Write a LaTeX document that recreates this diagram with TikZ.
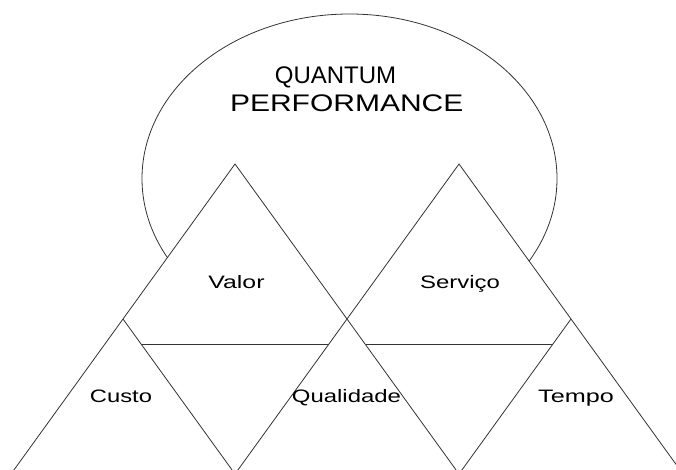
\documentclass[tikz,border=0pt]{standalone}
\usepackage{fontspec}
\setmainfont{Liberation Sans}
\usetikzlibrary{calc}
\begin{document}
\begin{tikzpicture}[x=1pt,y=-1pt,
  ln/.style={line width=0.8pt, black!80},
  title/.style={font=\fontsize{24}{24}\selectfont, anchor=base, inner sep=0pt},
  lbl/.style={font=\fontsize{18}{18}\selectfont, anchor=base, inner sep=0pt}]
\useasboundingbox (0,0) rectangle (676,470);
\clip (0,0) rectangle (676,470);
% lattice vertices
\coordinate (A) at (235,164);
\coordinate (B) at (459,164);
\coordinate (X) at (347.5,319);
\coordinate (C) at (123,319);
\coordinate (T) at (571,319);
\coordinate (BL) at (11,474);
\coordinate (BM1) at (235,474);
\coordinate (BM2) at (459,474);
\coordinate (BR) at (683,474);
% ellipse
\draw[ln] (349.5,178.6) ellipse [x radius=207.5, y radius=164.6];
\fill[white] (BL) -- (A) -- (X) -- (B) -- (BR) -- cycle;
% triangle sides
\draw[ln] (BL) -- (A) -- (BM2);
\draw[ln] (BM1) -- (B) -- (BR);
\draw[ln] (C) -- (BM1);
\draw[ln] (T) -- (BM2);
% horizontals
\coordinate (h1) at ($(C)!0.1645!(BM1)$);
\coordinate (h2) at ($(X)!0.1645!(BM1)$);
\coordinate (h3) at ($(X)!0.1645!(BM2)$);
\coordinate (h4) at ($(T)!0.1645!(BM2)$);
\draw[ln] (h1) -- (h2);
\draw[ln] (h3) -- (h4);
% texts
\node[title] (qt) at (335.5,83.3) {QUANTUM};
\node[title] (pf) at (346.7,111.7) {\scalebox{1.25}[1]{PERFORMANCE}};
\node[lbl] (valor) at (236.5,288.3) {\scalebox{1.38}[1]{Valor}};
\node[lbl] (serv) at (460,288.3) {\scalebox{1.33}[1]{Serviço}};
\node[lbl] (custo) at (121,402) {\scalebox{1.32}[1]{Custo}};
\node[lbl] (qual) at (346.5,402) {\scalebox{1.33}[1]{Qualidade}};
\node[lbl] (tempo) at (576,402) {\scalebox{1.4}[1]{Tempo}};
\end{tikzpicture}
\end{document}
